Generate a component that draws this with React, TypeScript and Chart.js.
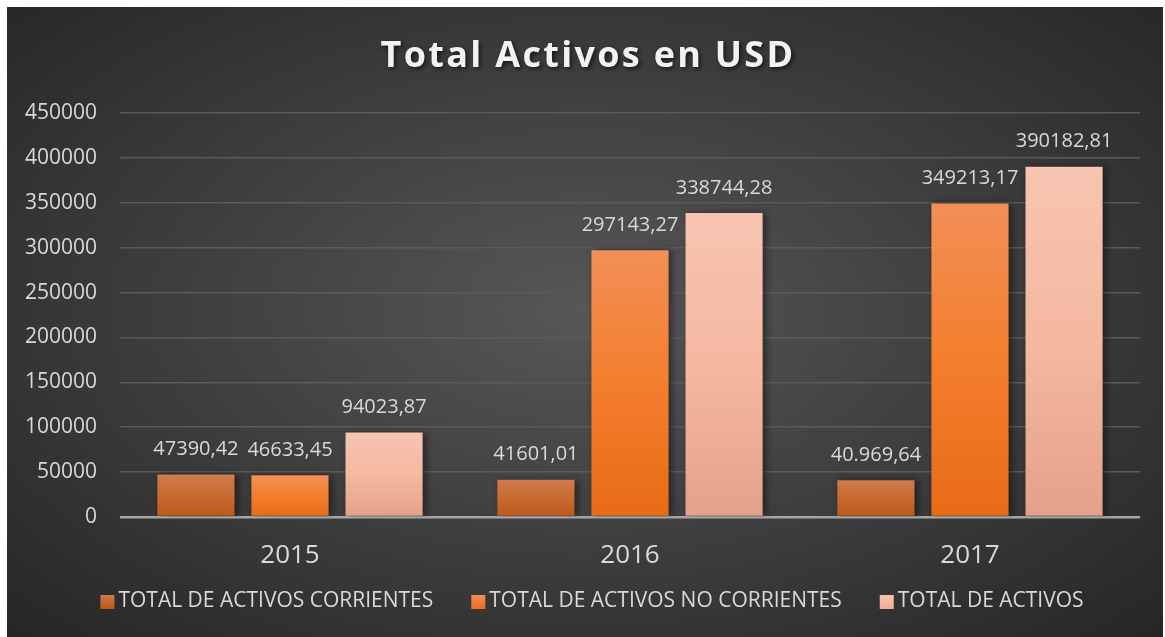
import { useEffect, useRef } from "react";
import { Chart, registerables } from "chart.js";

Chart.register(...registerables);

const chartTitle = "Total Activos en USD";
const categories = ["2015", "2016", "2017"];
const seriesNames = [
  "TOTAL DE ACTIVOS CORRIENTES",
  "TOTAL DE ACTIVOS NO CORRIENTES",
  "TOTAL DE ACTIVOS",
];
const corrientes = [47390.42, 41601.01, 40969.64];
const noCorrientes = [46633.45, 297143.27, 349213.17];
const totales = [94023.87, 338744.28, 390182.81];
const corrientesLabels = ["47390,42", "41601,01", "40.969,64"];
const noCorrientesLabels = ["46633,45", "297143,27", "349213,17"];
const totalesLabels = ["94023,87", "338744,28", "390182,81"];
const yMin = 0;
const yMax = 450000;
const yStep = 50000;

const FONT = "'Open Sans', 'Noto Sans', sans-serif";
const TEXT = "#d9d9d9";

const gradStops = [
  ["#d07b4e", "#c86a32", "#be5819"],
  ["#f28f57", "#f47e2c", "#e86b18"],
  ["#f7c4b1", "#f5b8a1", "#e5a189"],
];
const legendStops = [
  ["#d07b4e", "#be5819"],
  ["#f28f57", "#ec7020"],
  ["#f7c4b1", "#eeae96"],
];
const valueLabels = [corrientesLabels, noCorrientesLabels, totalesLabels];

const grad = (stops: string[]) => (c: any) => {
  const chart = c.chart;
  const ys = chart.scales && chart.scales.y;
  if (!ys || c.type !== "data") return stops[1];
  const top = ys.getPixelForValue(c.raw);
  const base = ys.getPixelForValue(0);
  if (!isFinite(top) || !isFinite(base) || top === base) return stops[1];
  const g = chart.ctx.createLinearGradient(0, top, 0, base);
  g.addColorStop(0, stops[0]);
  g.addColorStop(0.5, stops[1]);
  g.addColorStop(1, stops[2]);
  return g;
};

const decorPlugin = {
  id: "decor",
  beforeDatasetsDraw(chart: any) {
    const ctx = chart.ctx;
    ctx.save();
    ctx.shadowColor = "rgba(0,0,0,0.45)";
    ctx.shadowBlur = 7;
    ctx.shadowOffsetX = 3;
    ctx.shadowOffsetY = 0;
  },
  afterDatasetsDraw(chart: any) {
    const ctx = chart.ctx;
    ctx.restore();
    ctx.save();
    ctx.font = `20px ${FONT}`;
    ctx.fillStyle = TEXT;
    ctx.textAlign = "center";
    ctx.textBaseline = "middle";
    chart.data.datasets.forEach((_d: any, di: number) => {
      const meta = chart.getDatasetMeta(di);
      meta.data.forEach((bar: any, i: number) => {
        ctx.fillText(valueLabels[di][i], bar.x, bar.y - 25);
      });
    });
    ctx.restore();
  },
  afterDraw(chart: any) {
    const ctx = chart.ctx;
    // title
    ctx.save();
    ctx.font = `bold 36px ${FONT}`;
    (ctx as any).letterSpacing = "2.3px";
    ctx.fillStyle = "#f2f2f2";
    ctx.textAlign = "center";
    ctx.textBaseline = "middle";
    ctx.shadowColor = "rgba(0,0,0,0.6)";
    ctx.shadowBlur = 4;
    ctx.shadowOffsetX = 2;
    ctx.shadowOffsetY = 2;
    ctx.fillText(chartTitle, chart.width / 2 + 3, 50);
    ctx.restore();

    // legend
    ctx.save();
    ctx.font = `21px ${FONT}`;
    ctx.textBaseline = "middle";
    ctx.textAlign = "left";
    const box = 14;
    const textGap = 4;
    const itemGap = 38;
    const widths = seriesNames.map((n) => box + textGap + ctx.measureText(n).width);
    const total = widths.reduce((a, b) => a + b, 0) + itemGap * (seriesNames.length - 1);
    const centerX = 585;
    const cy = 594;
    let x = centerX - total / 2;
    seriesNames.forEach((n, i) => {
      const g = ctx.createLinearGradient(0, cy - box / 2, 0, cy + box / 2);
      g.addColorStop(0, legendStops[i][0]);
      g.addColorStop(1, legendStops[i][1]);
      ctx.fillStyle = g;
      ctx.fillRect(x, cy - box / 2 + 1, box, box);
      ctx.fillStyle = TEXT;
      ctx.fillText(n, x + box + textGap, cy);
      x += widths[i] + itemGap;
    });
    ctx.restore();
  },
};

export default function App() {
  const ref = useRef<HTMLCanvasElement | null>(null);

  useEffect(() => {
    if (!ref.current) return;
    const chart = new Chart(ref.current, {
      type: "bar",
      data: {
        labels: categories,
        datasets: [
          { label: seriesNames[0], data: corrientes, backgroundColor: grad(gradStops[0]) },
          { label: seriesNames[1], data: noCorrientes, backgroundColor: grad(gradStops[1]) },
          { label: seriesNames[2], data: totales, backgroundColor: grad(gradStops[2]) },
        ],
      },
      options: {
        responsive: false,
        animation: false,
        events: [],
        layout: { padding: { left: 0, right: 23, top: 106, bottom: 0 } },
        datasets: { bar: { categoryPercentage: 0.83, barPercentage: 0.82 } },
        scales: {
          x: {
            grid: { display: false },
            border: { display: false },
            ticks: { color: TEXT, font: { size: 26, family: FONT }, padding: 15 },
            afterFit: (s: any) => {
              s.height = 120;
            },
          },
          y: {
            min: yMin,
            max: yMax,
            border: { display: false },
            grid: {
              drawTicks: false,
              color: (c: any) => (c.tick && c.tick.value === 0 ? "#a6a6a6" : "#5a5a5a"),
              lineWidth: (c: any) => (c.tick && c.tick.value === 0 ? 2.5 : 1.5),
            },
            ticks: {
              stepSize: yStep,
              color: TEXT,
              font: { size: 21, family: FONT },
              padding: 23,
              callback: (v: any) => String(v),
            },
            afterFit: (s: any) => {
              s.width = 113;
            },
          },
        },
        plugins: {
          title: { display: false },
          tooltip: { enabled: false },
          legend: { display: false },
        },
      },
      plugins: [decorPlugin],
    });
    return () => chart.destroy();
  }, []);

  return (
    <div style={{ position: "fixed", left: 0, top: 0, width: 1165, height: 637, background: "#ffffff", overflow: "hidden" }}>
      <div
        style={{
          position: "absolute",
          left: 7,
          top: 7,
          width: 1156,
          height: 630,
          background: "radial-gradient(ellipse farthest-corner at 50% 48%, #575757 0%, #3e3e3e 50%, #262626 100%)",
        }}
      >
        <canvas ref={ref} width={1156} height={630} style={{ display: "block" }} />
      </div>
    </div>
  );
}
